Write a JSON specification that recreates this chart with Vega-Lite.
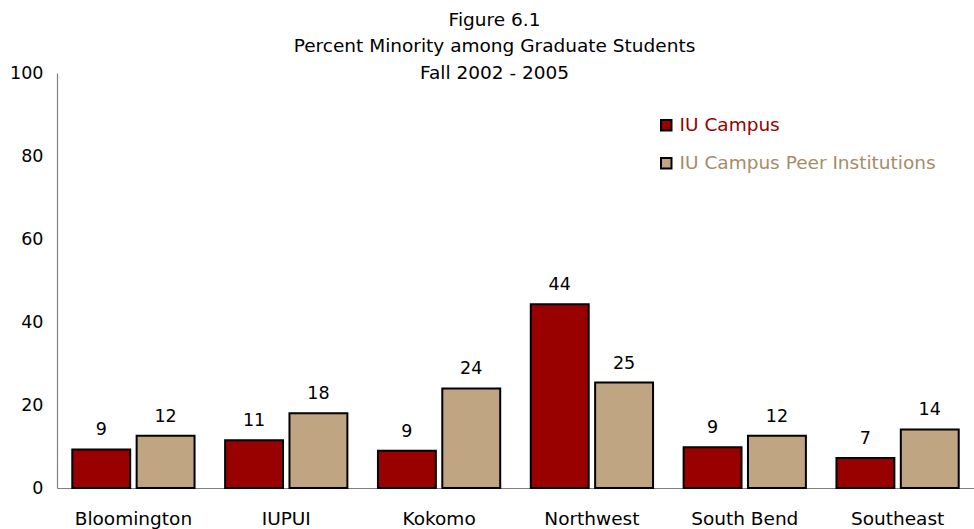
{
  "$schema": "https://vega.github.io/schema/vega-lite/v6.json",
  "width": 917,
  "height": 415,
  "autosize": "none",
  "padding": {"left": 57, "top": 73, "right": 0, "bottom": 41},
  "background": "white",
  "title": {
    "text": ["Figure 6.1", "Percent Minority among Graduate Students", "Fall 2002 - 2005"],
    "font": "DejaVu Sans",
    "fontSize": 18.5,
    "fontWeight": "normal",
    "color": "black",
    "lineHeight": 26.5,
    "anchor": "middle",
    "frame": "group",
    "dx": -21,
    "offset": -18
  },
  "config": {
    "view": {"stroke": null},
    "font": "DejaVu Sans"
  },
  "data": {
    "values": [
      {"campus": "Bloomington", "group": "IU Campus", "value": 9.3, "label": "9"},
      {"campus": "Bloomington", "group": "IU Campus Peer Institutions", "value": 12.6, "label": "12"},
      {"campus": "IUPUI", "group": "IU Campus", "value": 11.5, "label": "11"},
      {"campus": "IUPUI", "group": "IU Campus Peer Institutions", "value": 18.0, "label": "18"},
      {"campus": "Kokomo", "group": "IU Campus", "value": 9.0, "label": "9"},
      {"campus": "Kokomo", "group": "IU Campus Peer Institutions", "value": 24.0, "label": "24"},
      {"campus": "Northwest", "group": "IU Campus", "value": 44.3, "label": "44"},
      {"campus": "Northwest", "group": "IU Campus Peer Institutions", "value": 25.4, "label": "25"},
      {"campus": "South Bend", "group": "IU Campus", "value": 9.8, "label": "9"},
      {"campus": "South Bend", "group": "IU Campus Peer Institutions", "value": 12.6, "label": "12"},
      {"campus": "Southeast", "group": "IU Campus", "value": 7.2, "label": "7"},
      {"campus": "Southeast", "group": "IU Campus Peer Institutions", "value": 14.1, "label": "14"}
    ]
  },
  "encoding": {
    "x": {
      "field": "campus",
      "type": "nominal",
      "sort": null,
      "scale": {"paddingInner": 0.2, "paddingOuter": 0.1},
      "axis": {
        "title": null,
        "labelAngle": 0,
        "ticks": false,
        "labelPadding": 21,
        "labelFontSize": 18.5,
        "labelColor": "black",
        "labelFont": "DejaVu Sans",
        "labelLimit": 300,
        "domainColor": "#808080",
        "domainWidth": 1.2
      }
    },
    "xOffset": {
      "field": "group",
      "type": "nominal",
      "scale": {"paddingInner": 0.1}
    },
    "y": {
      "field": "value",
      "type": "quantitative",
      "scale": {"domain": [0, 100], "nice": false},
      "axis": {
        "title": null,
        "values": [0, 20, 40, 60, 80, 100],
        "grid": false,
        "ticks": false,
        "labelPadding": 14,
        "labelFontSize": 17.5,
        "labelColor": "black",
        "labelFont": "DejaVu Sans",
        "domainColor": "#808080",
        "domainWidth": 1.2
      }
    }
  },
  "layer": [
    {
      "mark": {"type": "bar", "stroke": "black", "strokeWidth": 2},
      "encoding": {
        "color": {
          "field": "group",
          "type": "nominal",
          "scale": {"domain": ["IU Campus", "IU Campus Peer Institutions"], "range": ["#990000", "#C0A582"]},
          "legend": {
            "title": null,
            "orient": "none",
            "legendX": 600,
            "legendY": 43,
            "symbolType": "square",
            "symbolSize": 110,
            "symbolStrokeColor": "black",
            "symbolStrokeWidth": 2,
            "labelFontSize": 18.5,
            "labelFont": "DejaVu Sans",
            "labelLimit": 400,
            "rowPadding": 19,
            "labelOffset": 4,
            "encode": {
              "labels": {
                "update": {
                  "fill": {"signal": "datum.value === 'IU Campus' ? '#990000' : '#A68C69'"}
                }
              }
            }
          }
        }
      }
    },
    {
      "mark": {"type": "text", "baseline": "alphabetic", "dy": -14, "fontSize": 17.5, "font": "DejaVu Sans", "color": "black"},
      "encoding": {
        "text": {"field": "label"}
      }
    }
  ]
}
